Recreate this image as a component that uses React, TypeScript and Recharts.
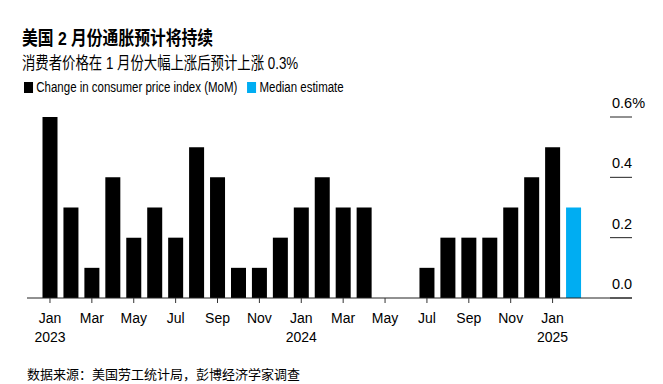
import { BarChart, Bar, XAxis, YAxis } from "recharts";

const months = [
  "Jan", "Feb", "Mar", "Apr", "May", "Jun", "Jul", "Aug", "Sep", "Oct", "Nov", "Dec",
  "Jan", "Feb", "Mar", "Apr", "May", "Jun", "Jul", "Aug", "Sep", "Oct", "Nov", "Dec",
  "Jan", "Feb",
];
const years = [
  "2023", "", "", "", "", "", "", "", "", "", "", "",
  "2024", "", "", "", "", "", "", "", "", "", "", "",
  "2025", "",
];
// MoM CPI change, %
const cpi = [
  0.6, 0.3, 0.1, 0.4, 0.2, 0.3, 0.2, 0.5, 0.4, 0.1, 0.1, 0.2,
  0.3, 0.4, 0.3, 0.3, 0.0, 0.0, 0.1, 0.2, 0.2, 0.2, 0.3, 0.4,
  0.5, null,
];
const estimate = [
  null, null, null, null, null, null, null, null, null, null, null, null,
  null, null, null, null, null, null, null, null, null, null, null, null,
  null, 0.3,
];
const yTicks = [0, 0.2, 0.4, 0.6];

const BLUE = "#00adf2";
const FONT = '"Liberation Sans", Arial, "Noto Sans CJK SC", sans-serif';

const data = months.map((m, i) => ({
  month: m,
  year: years[i],
  cpi: cpi[i],
  estimate: estimate[i],
}));

const MonthTick = (props: any) => {
  const { x, y, payload } = props;
  const i = payload.index;
  if (i % 2 !== 0) return null;
  return (
    <g>
      <line x1={x} x2={x} y1={y} y2={y + 5} stroke="#333" />
      <text x={x} y={y + 25} textAnchor="middle" fontSize={14} fill="#000" fontFamily={FONT}>
        {months[i]}
      </text>
      {years[i] && (
        <text x={x} y={y + 44} textAnchor="middle" fontSize={14} fill="#000" fontFamily={FONT}>
          {years[i]}
        </text>
      )}
    </g>
  );
};

const ValueTick = (props: any) => {
  const { x, y, payload } = props;
  const v = payload.value as number;
  const label = v === 0.6 ? "0.6%" : v.toFixed(1);
  return (
    <g>
      <line x1={x - 22} x2={x} y1={y} y2={y} stroke="#222" />
      <text x={x - 20} y={y - 9} fontSize={14.5} fill="#000" fontFamily={FONT}>
        {label}
      </text>
    </g>
  );
};

export default function App() {
  return (
    <div
      style={{
        position: "absolute",
        left: 0,
        top: 0,
        width: 663,
        height: 384,
        background: "#fff",
        fontFamily: FONT,
        overflow: "hidden",
      }}
    >
      <div
        style={{
          position: "absolute",
          left: 22,
          top: 23,
          fontSize: 19,
          fontWeight: 700,
          whiteSpace: "nowrap",
          transform: "scaleX(0.83)",
          transformOrigin: "left",
        }}
      >
        美国 2 月份通胀预计将持续
      </div>
      <div
        style={{
          position: "absolute",
          left: 22,
          top: 50,
          fontSize: 16.5,
          whiteSpace: "nowrap",
          transform: "scaleX(0.81)",
          transformOrigin: "left",
        }}
      >
        消费者价格在 1 月份大幅上涨后预计上涨 0.3%
      </div>
      <div
        style={{
          position: "absolute",
          left: 24,
          top: 79,
          fontSize: 14,
          whiteSpace: "nowrap",
          display: "flex",
          alignItems: "center",
          transform: "scaleX(0.82)",
          transformOrigin: "left",
        }}
      >
        <span style={{ width: 11, height: 11, background: "#000", marginRight: 4 }} />
        <span>Change in consumer price index (MoM)</span>
        <span style={{ width: 11, height: 11, background: BLUE, marginLeft: 12, marginRight: 4 }} />
        <span>Median estimate</span>
      </div>
      <div
        style={{
          position: "absolute",
          left: 27,
          top: 364,
          fontSize: 13,
          whiteSpace: "nowrap",
        }}
      >
        数据来源：美国劳工统计局，彭博经济学家调查
      </div>

      <div style={{ position: "absolute", left: 0, top: 0 }}>
        <BarChart
          width={663}
          height={384}
          data={data}
          margin={{ top: 117, right: 0, left: 27, bottom: 56 }}
        >
          <XAxis
            dataKey="month"
            height={30}
            interval={0}
            padding={{ left: 12.5, right: 48 }}
            axisLine={{ stroke: "#222" }}
            tickLine={false}
            tickSize={0}
            tickMargin={0}
            tick={<MonthTick />}
          />
          <YAxis
            orientation="right"
            width={31}
            domain={[0, 0.6]}
            ticks={yTicks}
            axisLine={false}
            tickLine={false}
            tickSize={0}
            tickMargin={0}
            tick={<ValueTick />}
          />
          <Bar dataKey="cpi" stackId="a" fill="#000" barSize={15} isAnimationActive={false} />
          <Bar dataKey="estimate" stackId="a" fill={BLUE} barSize={15} isAnimationActive={false} />
        </BarChart>
      </div>
    </div>
  );
}
